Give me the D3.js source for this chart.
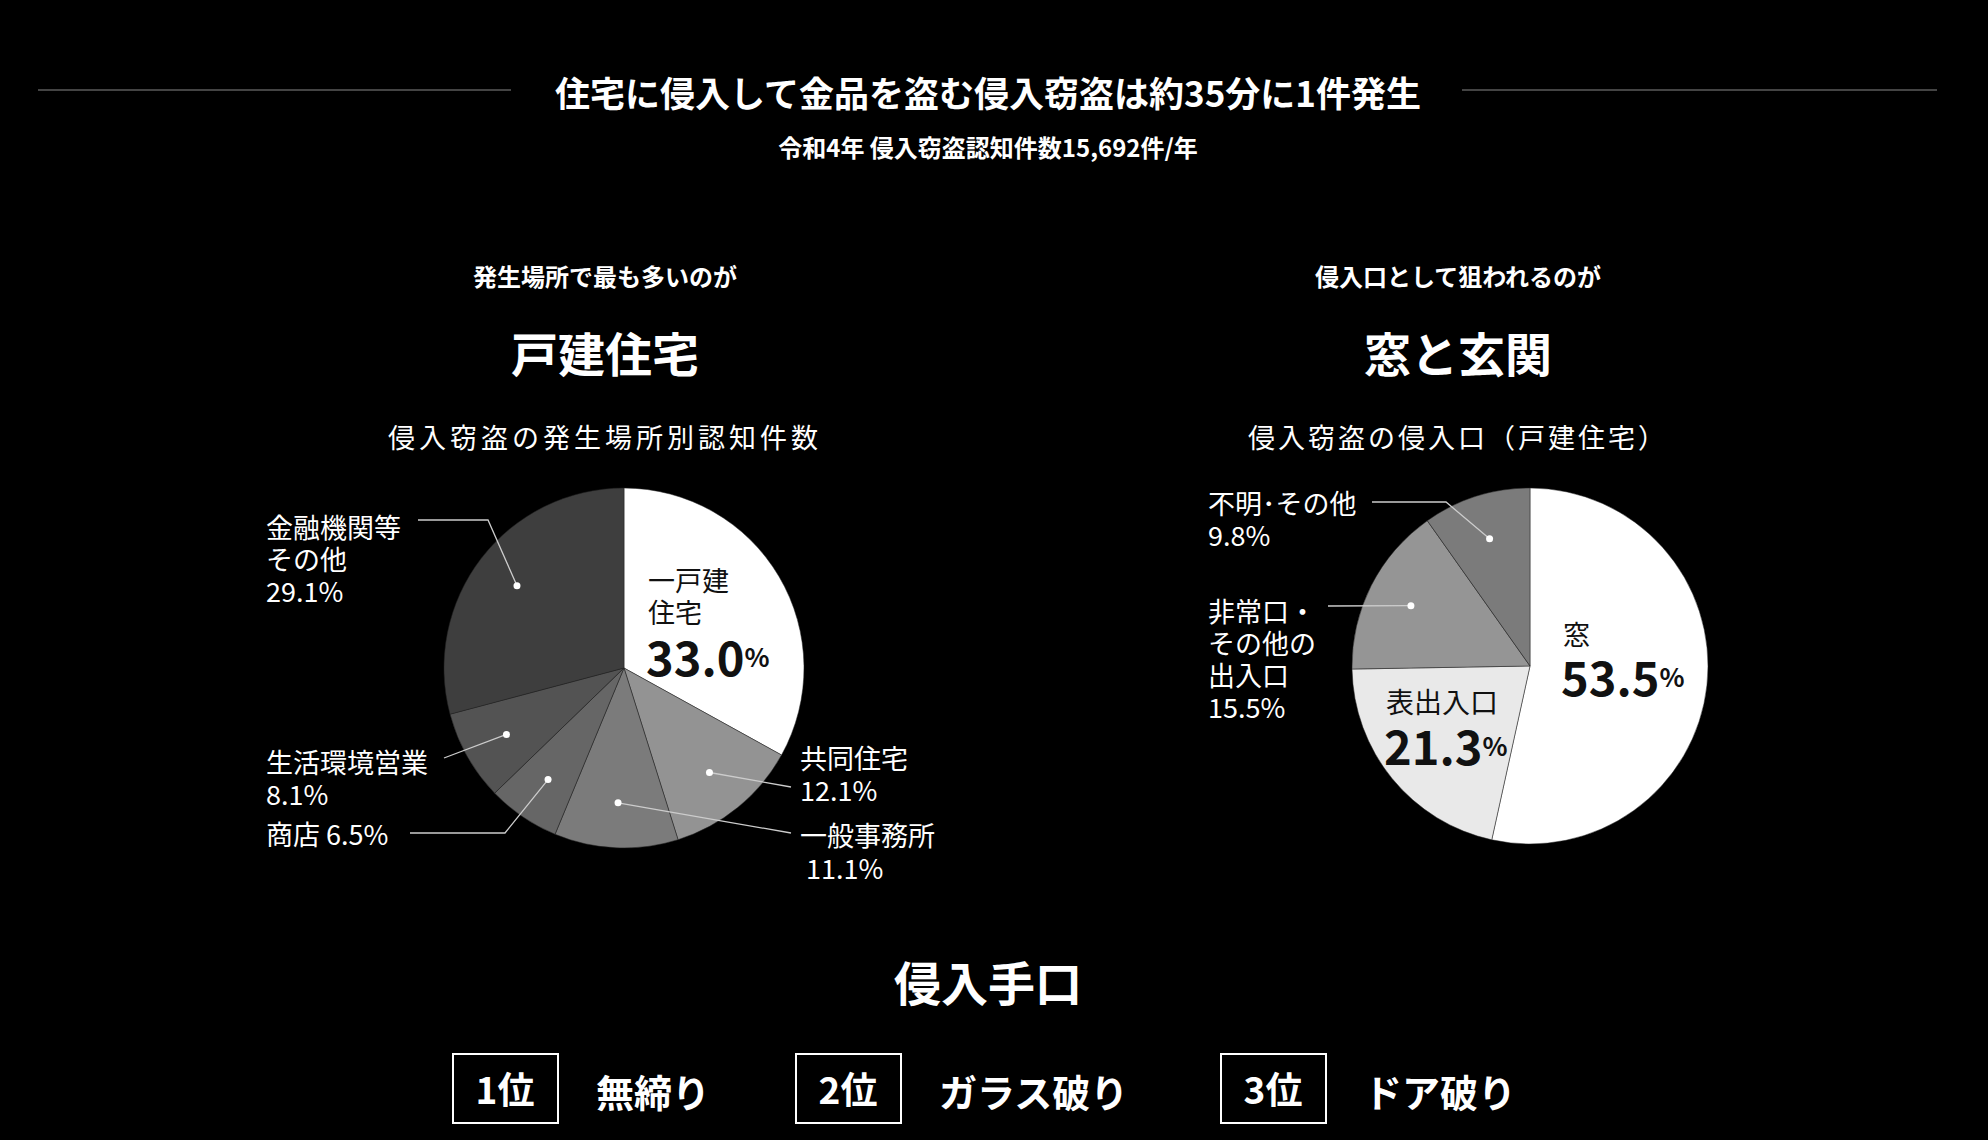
<!DOCTYPE html>
<html><head><meta charset="utf-8">
<script src="https://cdn.jsdelivr.net/npm/d3@7"></script>
<style>body{margin:0;background:#000}svg{display:block}text{font-family:"Noto Sans CJK JP","Noto Sans",sans-serif;fill:#fff}</style>
</head><body><svg id="c" width="1988" height="1140"></svg>
<script>
// 発生場所
var placeNames = ['一戸建住宅', '共同住宅', '一般事務所', '商店', '生活環境営業', '金融機関等その他']
var placeValues = [33.0, 12.1, 11.1, 6.5, 8.1, 29.1]
var placeColors = ['#ffffff', '#939393', '#7b7b7b', '#666666', '#535353', '#3e3e3e']
// 侵入口
var entryNames = ['窓', '表出入口', '非常口・その他の出入口', '不明・その他']
var entryValues = [53.5, 21.3, 15.5, 9.8]
var entryColors = ['#ffffff', '#e9e9e9', '#959595', '#7b7b7b']
var methods = ['無締り', 'ガラス破り', 'ドア破り']

var svg = d3.select('#c')
svg.append('rect').attr('width', 1988).attr('height', 1140).attr('fill', '#000')

function txt(x, y, s, size, weight, anchor, extra) {
  var t = svg.append('text').attr('x', x).attr('y', y).attr('font-size', size)
    .attr('font-weight', weight || 400).attr('text-anchor', anchor || 'start')
    .attr('dominant-baseline', 'central').text(s)
  if (extra) extra(t)
  return t
}

// header
svg.append('line').attr('x1', 38).attr('x2', 511).attr('y1', 90).attr('y2', 90).attr('stroke', '#888')
svg.append('line').attr('x1', 1462).attr('x2', 1937).attr('y1', 90).attr('y2', 90).attr('stroke', '#888')
txt(988, 91, '住宅に侵入して金品を盗む侵入窃盗は約35分に1件発生', 35, 700, 'middle')
txt(988, 146, '令和4年 侵入窃盗認知件数15,692件/年', 24, 700, 'middle')

txt(605, 275, '発生場所で最も多いのが', 24, 700, 'middle')
txt(605, 351, '戸建住宅', 47, 700, 'middle')
txt(605, 436, '侵入窃盗の発生場所別認知件数', 27, 400, 'middle', function(t){ t.attr('letter-spacing', 4).attr('fill', '#ddd') })
txt(1458, 275, '侵入口として狙われるのが', 24, 700, 'middle')
txt(1458, 351, '窓と玄関', 47, 700, 'middle')
txt(1458, 436, '侵入窃盗の侵入口（戸建住宅）', 27, 400, 'middle', function(t){ t.attr('letter-spacing', 3).attr('fill', '#ddd') })

function drawPie(cx, cy, r, values, colors) {
  var pie = d3.pie().sort(null)(values)
  var arc = d3.arc().innerRadius(0).outerRadius(r)
  var g = svg.append('g').attr('transform', 'translate(' + cx + ',' + cy + ')')
  g.selectAll('path').data(pie).join('path').attr('d', arc)
    .attr('fill', function(d, i){ return colors[i] }).attr('stroke', '#222').attr('stroke-width', 0.5)
  return pie.map(function(d) {
    var c = d3.arc().innerRadius(0).outerRadius(r * 1.5).centroid(d)
    return [cx + c[0], cy + c[1]]
  })
}

function leader(pts, dot) {
  svg.append('polyline').attr('points', pts.concat([dot]).map(function(p){ return p.join(',') }).join(' '))
    .attr('fill', 'none').attr('stroke', '#ccc').attr('stroke-width', 1.3)
  svg.append('circle').attr('cx', dot[0]).attr('cy', dot[1]).attr('r', 3.5).attr('fill', '#fff')
}

function lines(x, y, arr, size) {
  arr.forEach(function(s, i){ txt(x, y + i * 32, s, size || 27, 400, 'start', function(t){ t.attr('fill', '#eee') }) })
}

function bigPct(x, y, v, color) {
  var t = txt(x, y, '', 47, 700, 'start', function(t){ t.style('fill', color) })
  t.append('tspan').text(v.toFixed(1))
  t.append('tspan').attr('font-size', 26).text('%')
}

// left pie
var pd = drawPie(624, 668, 180, placeValues, placeColors)
txt(648, 579, '一戸建', 27, 400, 'start', function(t){ t.style('fill', '#111') })
txt(648, 611, '住宅', 27, 400, 'start', function(t){ t.style('fill', '#111') })
bigPct(646, 655, placeValues[0], '#111')
lines(800, 757, [placeNames[1], placeValues[1].toFixed(1) + '%'])
leader([[791, 787]], pd[1])
lines(800, 834, [placeNames[2]])
lines(806, 867, [placeValues[2].toFixed(1) + '%'])
leader([[791, 833]], pd[2])
lines(266, 833, [placeNames[3] + ' ' + placeValues[3].toFixed(1) + '%'])
leader([[410, 833], [505, 833]], pd[3])
lines(266, 761, [placeNames[4], placeValues[4].toFixed(1) + '%'])
leader([[444, 758]], pd[4])
lines(266, 526, ['金融機関等', 'その他', placeValues[5].toFixed(1) + '%'])
leader([[418, 520], [488, 520]], pd[5])

// right pie
var ed = drawPie(1530, 666, 178, entryValues, entryColors)
txt(1563, 633, '窓', 27, 400, 'start', function(t){ t.style('fill', '#111') })
bigPct(1561, 675, entryValues[0], '#111')
txt(1386, 701, '表出入口', 28, 400, 'start', function(t){ t.style('fill', '#111') })
bigPct(1384, 744, entryValues[1], '#111')
lines(1208, 610, ['非常口・', 'その他の', '出入口', entryValues[2].toFixed(1) + '%'])
leader([[1328, 606]], ed[2])
lines(1208, 502, ['不明･その他', entryValues[3].toFixed(1) + '%'])
leader([[1372, 502], [1446, 502]], ed[3])

// 侵入手口
txt(988, 980, '侵入手口', 47, 700, 'middle')
var bx = d3.scaleOrdinal().domain(methods).range([453, 796, 1221])
methods.forEach(function(m, i) {
  var x = bx(m)
  svg.append('rect').attr('x', x).attr('y', 1054).attr('width', 105).attr('height', 69)
    .attr('fill', 'none').attr('stroke', '#fff').attr('stroke-width', 2)
  txt(x + 52, 1088, (i + 1) + '位', 37, 700, 'middle')
  txt(x + 143, 1090, m, 38, 700, 'start')
})
</script></body></html>
